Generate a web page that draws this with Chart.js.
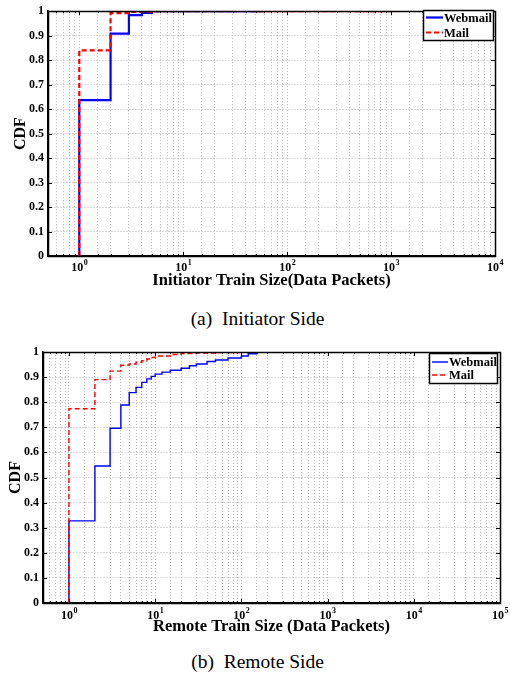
<!DOCTYPE html>
<html>
<head>
<meta charset="utf-8">
<script src="https://cdn.jsdelivr.net/npm/chart.js@4/dist/chart.umd.min.js"></script>
<style>
  body { margin: 0; background: #fff; width: 510px; height: 675px; position: relative; overflow: hidden; }
  canvas { position: absolute; left: 0; }
  #initiator-chart { top: 0; }
  #remote-chart { top: 340px; }
  .caption { position: absolute; left: 0; width: 515px; text-align: center; font-family: 'Liberation Serif', serif; font-size: 19.5px; color: #000; white-space: pre; }
</style>
</head>
<body>
<canvas id="initiator-chart" width="510" height="300"></canvas>
<div class="caption" style="top: 308px;">(a)  Initiator Side</div>
<canvas id="remote-chart" width="510" height="300"></canvas>
<div class="caption" style="top: 651px;">(b)  Remote Side</div>
<script>
// Initiator side CDF (train size in data packets)
const initWebmailSize = [1, 1, 2, 3, 4, 5, 60];
const initWebmailCdf  = [0, 0.637, 0.908, 0.984, 0.993, 1, 1];
const initMailSize = [1, 1, 2, 3, 5, 1100];
const initMailCdf  = [0, 0.84, 0.992, 0.997, 1, 1];

// Remote side CDF
const remoteWebmailSize = [1, 1, 2, 3, 4, 5, 6, 7, 8, 9, 10, 12, 15, 20, 25, 30, 40, 50, 70, 100, 120, 150, 10000];
const remoteWebmailCdf  = [0, 0.327, 0.546, 0.696, 0.789, 0.838, 0.859, 0.879, 0.893, 0.903, 0.912, 0.92, 0.927, 0.935, 0.945, 0.952, 0.962, 0.968, 0.976, 0.984, 0.993, 1, 1];
const remoteMailSize = [1, 1, 2, 3, 4, 5, 6, 7, 8, 9, 10, 15, 20, 30, 50, 100, 10000];
const remoteMailCdf  = [0, 0.774, 0.89, 0.924, 0.947, 0.952, 0.959, 0.965, 0.972, 0.978, 0.984, 0.99, 0.994, 0.996, 0.998, 1, 1];

const seriesLabels = ['Webmail', 'Mail'];
const yTicks = [0, 0.1, 0.2, 0.3, 0.4, 0.5, 0.6, 0.7, 0.8, 0.9, 1];

const serif = "'Liberation Serif', 'Times New Roman', serif";

function toPoints(xs, ys) {
    return xs.map((x, i) => ({ x, y: ys[i] }));
}

function isDecade(v) {
    const l = Math.log10(v);
    return Math.abs(l - Math.round(l)) < 1e-9;
}

// MATLAB-like box, inward ticks, 10^n labels and framed legend
const boxPlugin = {
    id: 'matlabBox',
    afterDraw(chart, args, opts) {
        const { ctx, chartArea: a, scales } = chart;
        ctx.save();
        ctx.strokeStyle = '#000';
        ctx.lineWidth = 1;
        ctx.setLineDash([]);
        ctx.beginPath();
        scales.x.ticks.forEach(t => {
            const px = Math.round(scales.x.getPixelForValue(t.value)) + 0.5;
            const len = isDecade(t.value) ? 4 : 2;
            ctx.moveTo(px, a.bottom); ctx.lineTo(px, a.bottom - len);
            ctx.moveTo(px, a.top); ctx.lineTo(px, a.top + len);
        });
        scales.y.ticks.forEach(t => {
            const py = Math.round(scales.y.getPixelForValue(t.value)) + 0.5;
            ctx.moveTo(a.left, py); ctx.lineTo(a.left + 4, py);
            ctx.moveTo(a.right, py); ctx.lineTo(a.right - 4, py);
        });
        ctx.stroke();
        ctx.lineWidth = 1.5;
        ctx.strokeRect(Math.round(a.left) + 0.5, Math.round(a.top) + 0.5, Math.round(a.right - a.left), Math.round(a.bottom - a.top));

        // decade labels with raised exponent
        ctx.fillStyle = '#000';
        ctx.textBaseline = 'middle';
        ctx.textAlign = 'left';
        scales.x.ticks.forEach(t => {
            if (!isDecade(t.value)) return;
            const px = scales.x.getPixelForValue(t.value);
            const exp = String(Math.round(Math.log10(t.value)));
            ctx.font = 'bold 12px ' + serif;
            const wb = ctx.measureText('10').width;
            ctx.font = 'bold 8px ' + serif;
            const we = ctx.measureText(exp).width;
            const x0 = px - (wb + we) / 2;
            const yy = a.bottom + opts.labelGap;
            ctx.font = 'bold 12px ' + serif;
            ctx.fillText('10', x0, yy);
            ctx.font = 'bold 8px ' + serif;
            ctx.fillText(exp, x0 + wb + 0.5, yy - 5);
        });

        // legend
        const lg = opts.legend;
        ctx.fillStyle = '#fff';
        ctx.fillRect(lg.x, lg.y, lg.w, lg.h);
        ctx.lineWidth = 1.5;
        ctx.strokeStyle = '#000';
        ctx.strokeRect(lg.x + 0.5, lg.y + 0.5, lg.w, lg.h);
        ctx.font = 'bold 12.5px ' + serif;
        ctx.textBaseline = 'middle';
        chart.data.datasets.forEach((ds, i) => {
            const yy = lg.y + lg.rows[i];
            ctx.beginPath();
            ctx.strokeStyle = ds.borderColor;
            ctx.lineWidth = ds.borderWidth;
            ctx.setLineDash(ds.borderDash || []);
            ctx.moveTo(lg.x + 3, yy);
            ctx.lineTo(lg.x + lg.lineW, yy);
            ctx.stroke();
            ctx.setLineDash([]);
            ctx.fillStyle = '#000';
            ctx.fillText(ds.label, lg.x + lg.lineW + 1, yy + 1);
        });
        ctx.restore();
    }
};

function makeChart(id, cfg) {
    const ctx = document.getElementById(id).getContext('2d');
    return new Chart(ctx, {
        type: 'line',
        data: {
            datasets: [
                {
                    label: seriesLabels[0],
                    data: toPoints(cfg.webSize, cfg.webCdf),
                    borderColor: '#0000ff',
                    borderWidth: cfg.lineWidth,
                    stepped: true,
                    pointRadius: 0,
                    fill: false,
                    order: 1
                },
                {
                    label: seriesLabels[1],
                    data: toPoints(cfg.mailSize, cfg.mailCdf),
                    borderColor: '#ff0000',
                    borderWidth: cfg.lineWidth,
                    borderDash: [5, 3],
                    stepped: true,
                    pointRadius: 0,
                    fill: false,
                    order: 0
                }
            ]
        },
        options: {
            responsive: false,
            animation: false,
            devicePixelRatio: 1,
            layout: { padding: cfg.padding },
            plugins: {
                legend: { display: false },
                tooltip: { enabled: false },
                matlabBox: { legend: cfg.legend, labelGap: cfg.labelGap }
            },
            scales: {
                x: {
                    type: 'logarithmic',
                    min: 0.5,
                    max: cfg.xMax,
                    afterFit: s => { s.height = cfg.xAxisHeight; },
                    grid: { color: '#b4b4b4', lineWidth: 1, drawTicks: false },
                    border: { color: '#000', width: 1.5, dash: [1, 2] },
                    ticks: { display: false, autoSkip: false, maxRotation: 0 },
                    title: {
                        display: true,
                        text: cfg.xTitle,
                        color: '#000',
                        font: { family: serif, size: 16.5, weight: 'bold' },
                        padding: { top: 0, bottom: cfg.xTitlePad }
                    }
                },
                y: {
                    min: 0,
                    max: 1,
                    afterFit: s => { s.width = cfg.yAxisWidth; },
                    afterBuildTicks: s => { s.ticks = yTicks.map(v => ({ value: v })); },
                    grid: { color: '#b4b4b4', lineWidth: 1, drawTicks: false },
                    border: { color: '#000', width: 1.5, dash: [1, 2] },
                    ticks: {
                        padding: 4,
                        color: '#000',
                        font: { family: serif, size: 12, weight: 'bold' },
                        callback: v => String(+v.toFixed(1))
                    },
                    title: {
                        display: true,
                        text: 'CDF',
                        color: '#000',
                        font: { family: serif, size: 16, weight: 'bold' },
                        padding: { top: cfg.yTitlePad, bottom: 0 }
                    }
                }
            }
        },
        plugins: [boxPlugin]
    });
}

makeChart('initiator-chart', {
    webSize: initWebmailSize, webCdf: initWebmailCdf,
    mailSize: initMailSize, mailCdf: initMailCdf,
    lineWidth: 2.2,
    xMax: 10000,
    xTitle: 'Initiator Train Size(Data Packets)',
    padding: { left: 0, top: 8, right: 15, bottom: 0 },
    xAxisHeight: 44, yAxisWidth: 48,
    xTitlePad: 9, yTitlePad: 11, labelGap: 12,
    legend: { x: 423, y: 10, w: 70, h: 30, lineW: 20, rows: [7.5, 22.5] }
});

makeChart('remote-chart', {
    webSize: remoteWebmailSize, webCdf: remoteWebmailCdf,
    mailSize: remoteMailSize, mailCdf: remoteMailCdf,
    lineWidth: 1.4,
    xMax: 100000,
    xTitle: 'Remote Train Size (Data Packets)',
    padding: { left: 0, top: 12, right: 10, bottom: 0 },
    xAxisHeight: 37, yAxisWidth: 43,
    xTitlePad: 3, yTitlePad: 6, labelGap: 13,
    legend: { x: 429, y: 13, w: 68, h: 30, lineW: 19, rows: [9, 22] }
});
</script>
</body>
</html>
